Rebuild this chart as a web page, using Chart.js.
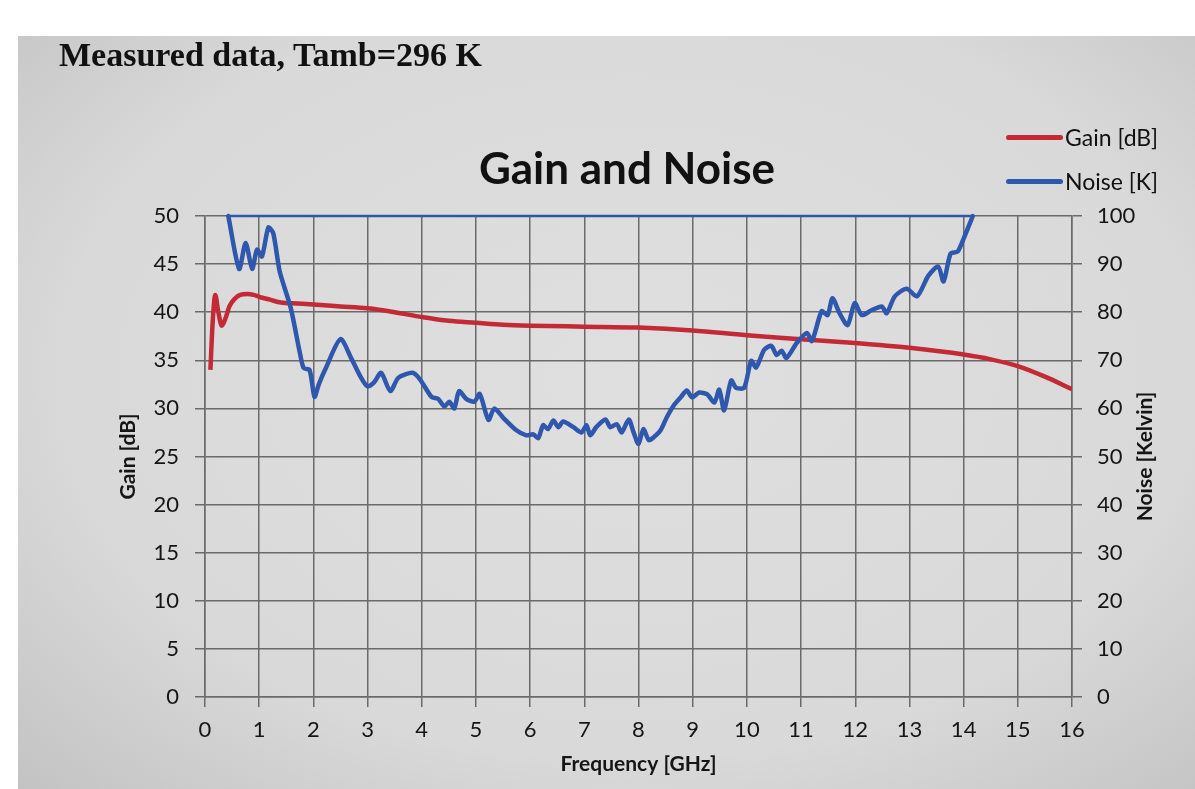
<!DOCTYPE html>
<html>
<head>
<meta charset="utf-8">
<title>Gain and Noise</title>
<script src="https://cdn.jsdelivr.net/npm/chart.js@4.4.1/dist/chart.umd.min.js"></script>
<style>
  html, body { margin: 0; padding: 0; background: #fff; }
  #page { position: relative; width: 1195px; height: 789px; overflow: hidden; background: #fff; }
  #paper {
    position: absolute; left: 18px; top: 36px; right: 0; bottom: 0;
    background: radial-gradient(ellipse 80% 85% at 52% 45%, #dfdfdf 0%, #d9d9d9 60%, #bdbdbd 100%);
  }
  #chart { position: absolute; left: 0; top: 0; }
  .header {
    position: absolute; left: 59px; top: 38px; white-space: nowrap;
    font: bold 34px "Liberation Serif", serif; line-height: 1; color: #111;
  }
  .title {
    position: absolute; left: 627px; top: 145px; transform: translateX(-50%); white-space: nowrap;
    font: bold 44px Lato, sans-serif; line-height: 1; color: #111;
  }
  .legend { position: absolute; left: 1006px; top: 0; font: 23px Lato, sans-serif; color: #111; }
  .legend .item { position: absolute; left: 0; display: flex; align-items: center; height: 30px; white-space: nowrap; }
  .legend .swatch { width: 57px; height: 5px; border-radius: 3px; margin-right: 2px; }
</style>
</head>
<body>
<div id="page">
  <div id="paper"></div>
  <canvas id="chart" width="1195" height="789"></canvas>
  <div class="header">Measured data, Tamb=296 K</div>
  <div class="title">Gain and Noise</div>
  <div class="legend" id="legend"></div>
</div>
<script>
// Amplifier gain, dB, against frequency in GHz
const freqGain = [0.1, 0.14, 0.19, 0.24, 0.31, 0.38, 0.45, 0.55, 0.65, 0.78, 0.9, 1.0, 1.2, 1.4, 1.7, 2.0, 2.5, 3.0, 3.5, 4.0, 4.5, 5.0, 5.5, 6.0, 7.0, 8.0, 9.0, 10.0, 11.0, 12.0, 13.0, 14.0, 14.5, 15.0, 15.5, 16.0];
const gainDb   = [34.0, 38.8, 41.8, 40.2, 38.6, 39.4, 40.6, 41.4, 41.8, 41.9, 41.8, 41.6, 41.3, 41.0, 40.9, 40.8, 40.6, 40.4, 40.0, 39.5, 39.1, 38.9, 38.7, 38.6, 38.5, 38.4, 38.1, 37.6, 37.2, 36.8, 36.3, 35.6, 35.1, 34.4, 33.3, 32.0];

// Noise temperature, K, against frequency in GHz (the part inside 0..100 K)
const freqNoise = [0.43, 0.63, 0.75, 0.87, 0.96, 1.05, 1.17, 1.26, 1.38, 1.58, 1.75, 1.82, 1.93, 2.02, 2.1, 2.23, 2.5, 2.7, 2.88, 3.0,
  3.12, 3.25, 3.42, 3.57, 3.83, 3.97, 4.18, 4.3, 4.42, 4.51, 4.6, 4.69, 4.82, 4.97, 5.07, 5.23, 5.34, 5.5, 5.74, 5.93,
  6.06, 6.15, 6.24, 6.33, 6.43, 6.52, 6.61, 6.8, 6.95, 7.04, 7.11, 7.22, 7.39, 7.48, 7.6, 7.69, 7.82, 7.91, 8.0, 8.09,
  8.19, 8.28, 8.41, 8.52, 8.65, 8.78, 8.89, 8.99, 9.12, 9.27, 9.4, 9.49, 9.58, 9.71, 9.8, 9.95, 10.08, 10.17, 10.32, 10.45,
  10.55, 10.64, 10.73, 10.92, 11.11, 11.2, 11.38, 11.49, 11.58, 11.71, 11.86, 11.99, 12.12, 12.3, 12.49, 12.58, 12.73, 12.95, 13.14, 13.35,
  13.53, 13.63, 13.76, 13.89, 14.0, 14.17];
const noiseK = [100, 89, 94.4, 89, 93, 91.6, 97.6, 96.4, 88.4, 81, 71.6, 68.4, 68, 62.4, 65, 68.4, 74.4, 70.4, 66.4, 64.6,
  65.4, 67.4, 63.6, 66.4, 67.4, 66, 62.4, 62, 60.4, 61.4, 60, 63.6, 62, 61.4, 63, 57.6, 60, 58.1, 55.5, 54.4,
  54.6, 53.8, 56.5, 55.7, 57.5, 56.1, 57.3, 56.1, 55, 56.5, 54.4, 56.1, 57.7, 56.1, 56.7, 55, 57.7, 55, 52.6, 55.7,
  53.4, 54, 55.5, 58.1, 60.6, 62.3, 63.7, 62.3, 63.3, 62.9, 61.2, 63.9, 59.6, 65.8, 64.3, 64.3, 69.9, 68.5, 72.2, 73,
  71.1, 72, 70.5, 73.6, 75.7, 74, 80.2, 79.4, 82.9, 79.8, 77.3, 81.9, 79.4, 80.4, 81.2, 79.8, 83.3, 84.9, 83.3, 87.6,
  89.5, 86.4, 92.2, 92.6, 95.3, 100];

// Noise trace where it runs along the 100 K limit
const capFreq  = [0.43, 14.17];
const capNoise = [100, 100];

// Tick labels
const freqTicks  = [0, 1, 2, 3, 4, 5, 6, 7, 8, 9, 10, 11, 12, 13, 14, 15, 16];
const gainTicks  = [0, 5, 10, 15, 20, 25, 30, 35, 40, 45, 50];
const noiseTicks = [0, 10, 20, 30, 40, 50, 60, 70, 80, 90, 100];

const RED = '#c42a36';
const BLUE = '#2f57ad';
const GRID = '#6a6a6a';
const INK = '#151515';

const toPoints = (xs, ys) => xs.map((x, i) => ({ x, y: ys[i] }));
const useTicks = list => scale => { scale.ticks = list.map(v => ({ value: v })); };

Chart.defaults.font.family = 'Lato, sans-serif';
Chart.defaults.color = INK;

// Right-hand axis title, reading bottom to top
const rightTitle = {
  id: 'rightTitle',
  afterDraw(chart, args, opts) {
    const s = chart.scales.y1, a = chart.chartArea, ctx = chart.ctx;
    ctx.save();
    ctx.translate(s.right - opts.offset, (a.top + a.bottom) / 2);
    ctx.rotate(-Math.PI / 2);
    ctx.font = 'bold 21px Lato, sans-serif';
    ctx.fillStyle = INK;
    ctx.textAlign = 'center';
    ctx.textBaseline = 'middle';
    ctx.fillText(opts.text, 0, 0);
    ctx.restore();
  }
};

const datasets = [
  { label: 'Gain [dB]', data: toPoints(freqGain, gainDb), yAxisID: 'y', borderColor: RED, borderWidth: 4.5,
    cubicInterpolationMode: 'monotone', pointRadius: 0, order: 1, legend: true },
  { label: 'Noise [K]', data: toPoints(freqNoise, noiseK), yAxisID: 'y1', borderColor: BLUE, borderWidth: 4.5,
    tension: 0.25, pointRadius: 0, order: 0, clip: 4, borderJoinStyle: 'round', borderCapStyle: 'round', legend: true },
  { label: 'Noise limit', data: toPoints(capFreq, capNoise), yAxisID: 'y1', borderColor: BLUE, borderWidth: 2.5,
    pointRadius: 0, order: 2, clip: 4, legend: false }
];

const gridOpts = { color: GRID, lineWidth: 1.5, tickLength: 10, tickColor: GRID, tickWidth: 1.5 };
const borderOpts = { display: true, color: GRID, width: 1.5 };

new Chart(document.getElementById('chart'), {
  type: 'line',
  data: { datasets },
  plugins: [rightTitle],
  options: {
    responsive: false,
    devicePixelRatio: 1,
    animation: false,
    events: [],
    layout: { padding: { top: 216, left: 0, right: 0, bottom: 0 } },
    plugins: {
      legend: { display: false },
      title: { display: false },
      tooltip: { enabled: false },
      rightTitle: { text: 'Noise [Kelvin]', offset: 50 }
    },
    scales: {
      x: {
        type: 'linear', position: 'bottom', min: 0, max: 16,
        afterBuildTicks: useTicks(freqTicks),
        afterFit: s => { s.height = 92; },
        grid: gridOpts, border: borderOpts,
        ticks: { font: { size: 22 }, padding: 10, maxRotation: 0, autoSkip: false, color: INK },
        title: { display: true, text: 'Frequency [GHz]', font: { size: 21, weight: 'bold' }, padding: { top: 0, bottom: 12 }, color: INK }
      },
      y: {
        type: 'linear', position: 'left', min: 0, max: 50,
        afterBuildTicks: useTicks(gainTicks),
        afterFit: s => { s.width = 205; },
        grid: gridOpts, border: borderOpts,
        ticks: { font: { size: 22 }, padding: 16, color: INK },
        title: { display: true, text: 'Gain [dB]', font: { size: 21, weight: 'bold' }, padding: { top: 116, bottom: 0 }, color: INK }
      },
      y1: {
        type: 'linear', position: 'right', min: 0, max: 100,
        afterBuildTicks: useTicks(noiseTicks),
        afterFit: s => { s.width = 123; },
        grid: Object.assign({}, gridOpts, { drawOnChartArea: false }), border: borderOpts,
        ticks: { font: { size: 22 }, padding: 15, color: INK }
      }
    }
  }
});

// Legend built from the dataset labels and colours
const legend = document.getElementById('legend');
datasets.filter(d => d.legend).forEach((d, i) => {
  const item = document.createElement('div');
  item.className = 'item';
  item.style.top = (122 + i * 44) + 'px';
  const sw = document.createElement('span');
  sw.className = 'swatch';
  sw.style.background = d.borderColor;
  const txt = document.createElement('span');
  txt.textContent = d.label;
  item.appendChild(sw);
  item.appendChild(txt);
  legend.appendChild(item);
});
</script>
</body>
</html>
